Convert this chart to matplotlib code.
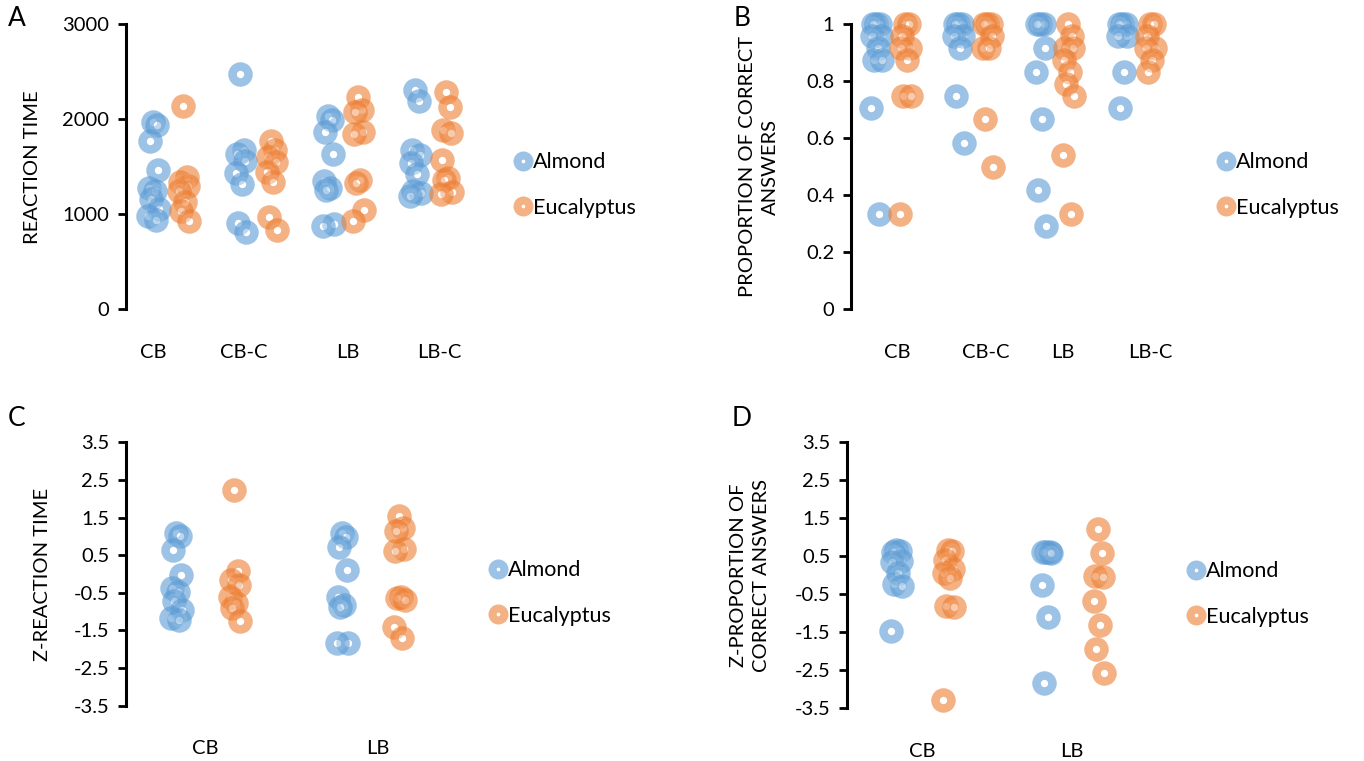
import matplotlib
matplotlib.use("Agg")
import matplotlib.pyplot as plt
from matplotlib.lines import Line2D

plt.rcParams["font.family"] = ["Lato", "DejaVu Sans"]

W, H = 1364, 761
DPI = 100

# ---------------- data ----------------
series_names = ["Almond", "Eucalyptus"]

# Panel A: reaction time
rt_categories = ["CB", "CB-C", "LB", "LB-C"]
rt_almond = [
    [1975, 1940, 1770, 1470, 1275, 1250, 1160, 1060, 980, 940],
    [2480, 1680, 1630, 1560, 1440, 1320, 910, 810],
    [2040, 1990, 1870, 1640, 1350, 1280, 1260, 900, 880],
    [2310, 2190, 1680, 1620, 1540, 1420, 1250, 1220, 1190],
]
rt_eucalyptus = [
    [2135, 1390, 1340, 1300, 1250, 1130, 1040, 930],
    [1770, 1680, 1600, 1550, 1450, 1340, 970, 830],
    [2230, 2100, 2080, 1870, 1850, 1360, 1330, 1050, 930],
    [2290, 2130, 1890, 1860, 1570, 1380, 1360, 1230, 1210],
]
rt_ticks = [0, 1000, 2000, 3000]

# Panel B: proportion of correct answers
pc_categories = ["CB", "CB-C", "LB", "LB-C"]
pc_almond = [
    [1.0, 1.0, 1.0, 0.958, 0.958, 0.917, 0.875, 0.875, 0.708, 0.333],
    [1.0, 1.0, 1.0, 0.958, 0.958, 0.917, 0.75, 0.583],
    [1.0, 1.0, 1.0, 0.917, 0.833, 0.667, 0.417, 0.292],
    [1.0, 1.0, 1.0, 0.958, 0.958, 0.833, 0.708],
]
pc_eucalyptus = [
    [1.0, 1.0, 0.958, 0.917, 0.917, 0.875, 0.75, 0.75, 0.333],
    [1.0, 1.0, 1.0, 0.958, 0.917, 0.917, 0.667, 0.5],
    [1.0, 0.958, 0.917, 0.917, 0.875, 0.833, 0.792, 0.75, 0.542, 0.333],
    [1.0, 1.0, 0.958, 0.917, 0.917, 0.875, 0.833],
]
pc_ticks = [0, 0.2, 0.4, 0.6, 0.8, 1.0]
pc_ticklabels = ["0", "0.2", "0.4", "0.6", "0.8", "1"]

# Panel C: z-scored reaction time
zrt_categories = ["CB", "LB"]
zrt_almond = [
    [1.08, 1.02, 0.63, -0.03, -0.38, -0.47, -0.72, -0.95, -1.18, -1.22],
    [1.08, 0.98, 0.71, 0.10, -0.60, -0.82, -0.87, -1.83, -1.84],
]
zrt_eucalyptus = [
    [2.23, 0.08, -0.16, -0.30, -0.62, -0.78, -0.91, -1.25],
    [1.54, 1.21, 1.15, 0.66, 0.62, -0.62, -0.65, -0.70, -1.40, -1.69],
]

# Panel D: z-scored proportion of correct answers
zpc_categories = ["CB", "LB"]
zpc_almond = [
    [0.66, 0.64, 0.60, 0.37, 0.33, 0.05, -0.24, -0.28, -1.47],
    [0.61, 0.61, 0.60, 0.58, -0.26, -1.11, -2.84],
]
zpc_eucalyptus = [
    [0.66, 0.62, 0.40, 0.15, 0.05, -0.08, -0.82, -0.84, -3.28],
    [1.21, 0.59, -0.02, -0.05, -0.68, -1.31, -1.94, -2.58],
]
z_ticks = [-3.5, -2.5, -1.5, -0.5, 0.5, 1.5, 2.5, 3.5]
z_ticklabels = ["-3.5", "-2.5", "-1.5", "-0.5", "0.5", "1.5", "2.5", "3.5"]

# ---------------- style ----------------
BLUE = (0x5B / 255, 0x9B / 255, 0xD5 / 255)
ORANGE = (0xED / 255, 0x7D / 255, 0x31 / 255)
ALPHA = 0.6
MS = 16 * 72 / DPI        # marker diameter (pt)
MEW = 8.5 * 72 / DPI      # ring thickness (pt)
FS_TICK = 14.5
FS_LABEL = 14.5
FS_LEG = 15.5
FS_PANEL = 19
JITTER_PX = [0, 4, -3, 5, -4, 2, -2, 6, -5, 3]

fig = plt.figure(figsize=(W / DPI, H / DPI), dpi=DPI)


def px_axes(left, top, right, bottom):
    return fig.add_axes([left / W, 1 - bottom / H, (right - left) / W, (bottom - top) / H])


def ring_points(ax, groups, side, spacing_px, color):
    for i, vals in enumerate(groups):
        xs = [i + 1 + side + JITTER_PX[k % len(JITTER_PX)] / spacing_px for k in range(len(vals))]
        ax.plot(xs, vals, linestyle="none", marker="o", markersize=MS,
                markeredgewidth=MEW,
                markeredgecolor=color + (ALPHA,),
                markerfacecolor=(1, 1, 1, 0.35), clip_on=False)


def panel(box, xlim, spacing_px, ylim, yticks, yticklabels, cats, label_shift,
          alm, euc, ylabel, letter, letter_xy, ylabel_x, legend_xy):
    left, top, right, bottom = box
    ax = px_axes(left, top, right, bottom)
    ax.set_xlim(*xlim)
    ax.set_ylim(*ylim)
    for s in ("top", "right", "bottom"):
        ax.spines[s].set_visible(False)
    ax.spines["left"].set_linewidth(2.2)
    ax.set_yticks(yticks)
    ax.set_yticklabels(yticklabels)
    ax.tick_params(axis="y", direction="out", length=6, width=2.0,
                   labelsize=FS_TICK, pad=6)
    ax.set_xticks([i + 1 + label_shift[i] for i in range(len(cats))])
    ax.set_xticklabels(cats)
    ax.tick_params(axis="x", length=0, labelsize=FS_TICK, pad=25)
    off = 0.175
    ring_points(ax, alm, -off, spacing_px, BLUE)
    ring_points(ax, euc, off, spacing_px, ORANGE)
    ax.set_ylabel(ylabel, fontsize=FS_LABEL, linespacing=1.4, ha="center", va="center")
    ax.yaxis.set_label_coords((ylabel_x - left) / (right - left), 0.5)
    fig.text(letter_xy[0] / W, 1 - letter_xy[1] / H, letter, fontsize=FS_PANEL,
             ha="left", va="center")
    handles = [
        Line2D([], [], linestyle="none", marker="o", markersize=12 * 72 / DPI,
               markeredgewidth=8 * 72 / DPI, markeredgecolor=c + (ALPHA,),
               markerfacecolor="white")
        for c in (BLUE, ORANGE)
    ]
    ax.legend(handles, series_names, loc="center left",
              bbox_to_anchor=(legend_xy[0] / W, 1 - legend_xy[1] / H),
              bbox_transform=fig.transFigure, frameon=False,
              fontsize=FS_LEG, handlelength=0.8, handletextpad=0.1,
              labelspacing=1.2, borderpad=0, borderaxespad=0)
    return ax


# A
panel((126, 24.3, 474, 309.3), (0.52, 4.5), 87.5, (0, 3000), rt_ticks,
      [str(t) for t in rt_ticks], rt_categories, [-0.17, -0.13, 0.06, 0.10],
      rt_almond, rt_eucalyptus, "REACTION TIME", "A", (8, 18), 33, (514, 185))

# B
panel((851, 24.3, 1177, 309.3), (0.52, 4.5), 82, (0, 1.0), pc_ticks,
      pc_ticklabels, pc_categories, [0.085, 0.16, 0.10, 0.17],
      pc_almond, pc_eucalyptus, "PROPORTION OF CORRECT\nANSWERS", "B", (734, 18),
      759, (1217, 185))

# C
panel((126, 442.3, 453, 705.7), (0.52, 2.5), 165, (-3.5, 3.5), z_ticks,
      z_ticklabels, zrt_categories, [0.0, 0.045],
      zrt_almond, zrt_eucalyptus, "Z-REACTION TIME", "C", (8, 418), 43, (489, 593))

# D
panel((847, 441.7, 1147, 708.3), (0.5, 2.5), 150, (-3.5, 3.5), z_ticks,
      z_ticklabels, zpc_categories, [0.0, 0.0],
      zpc_almond, zpc_eucalyptus, "Z-PROPORTION OF\nCORRECT ANSWERS", "D", (732, 418),
      750, (1187, 594))

fig.savefig("out.png", dpi=DPI)
